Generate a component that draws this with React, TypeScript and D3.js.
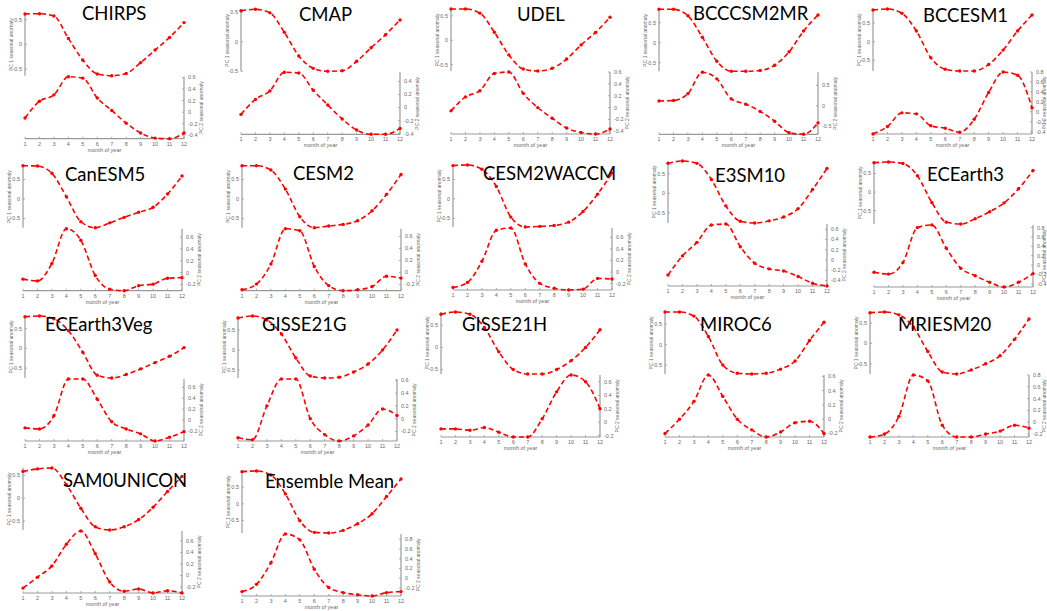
import * as d3 from 'd3';

// month axis
const months = [1, 2, 3, 4, 5, 6, 7, 8, 9, 10, 11, 12];

const modelNames = [
  'CHIRPS', 'CMAP', 'UDEL', 'BCCCSM2MR', 'BCCESM1',
  'CanESM5', 'CESM2', 'CESM2WACCM', 'E3SM10', 'ECEarth3',
  'ECEarth3Veg', 'GISSE21G', 'GISSE21H', 'MIROC6', 'MRIESM20',
  'SAM0UNICON', 'Ensemble Mean',
];

// PC1 seasonal anomaly, one array per panel
const pc1CHIRPS = [0.615, 0.62, 0.574, 0.12, -0.32, -0.6, -0.635, -0.59, -0.37, -0.115, 0.14, 0.44];
const pc1CMAP = [0.525, 0.55, 0.49, 0.16, -0.24, -0.45, -0.5, -0.49, -0.33, -0.1, 0.12, 0.37];
const pc1UDEL = [0.64, 0.64, 0.555, 0.165, -0.3, -0.59, -0.63, -0.575, -0.385, -0.095, 0.16, 0.47];
const pc1BCCCSM2MR = [0.83, 0.83, 0.67, 0.135, -0.46, -0.71, -0.71, -0.69, -0.56, -0.225, 0.29, 0.69];
const pc1BCCESM1 = [0.85, 0.875, 0.76, 0.285, -0.43, -0.74, -0.785, -0.785, -0.61, -0.225, 0.285, 0.715];
const pc1CanESM5 = [0.855, 0.846, 0.66, 0.06, -0.58, -0.735, -0.61, -0.47, -0.34, -0.21, 0.13, 0.59];
const pc1CESM2 = [0.855, 0.855, 0.745, 0.255, -0.455, -0.735, -0.69, -0.65, -0.555, -0.3, 0.12, 0.63];
const pc1CESM2WACCM = [0.855, 0.87, 0.76, 0.315, -0.47, -0.725, -0.71, -0.685, -0.6, -0.325, 0.12, 0.66];
const pc1E3SM10 = [0.775, 0.835, 0.775, 0.36, -0.32, -0.715, -0.76, -0.705, -0.605, -0.39, 0.1, 0.645];
const pc1ECEarth3 = [0.79, 0.81, 0.77, 0.44, -0.28, -0.81, -0.86, -0.72, -0.53, -0.29, 0.09, 0.58];
const pc1ECEarth3Veg = [0.8, 0.82, 0.75, 0.45, -0.1, -0.68, -0.75, -0.66, -0.52, -0.36, -0.2, 0.02];
const pc1GISSE21G = [0.8, 0.85, 0.75, 0.4, -0.2, -0.65, -0.7, -0.68, -0.55, -0.35, 0.0, 0.5];
const pc1GISSE21H = [0.75, 0.8, 0.75, 0.45, -0.1, -0.5, -0.6, -0.6, -0.5, -0.3, 0.0, 0.4];
const pc1MIROC6 = [0.8, 0.8, 0.7, 0.2, -0.5, -0.7, -0.72, -0.7, -0.6, -0.4, 0.1, 0.55];
const pc1MRIESM20 = [0.75, 0.77, 0.7, 0.4, -0.2, -0.7, -0.75, -0.65, -0.5, -0.3, 0.1, 0.6];
const pc1SAM0UNICON = [0.59, 0.645, 0.665, 0.3, -0.22, -0.63, -0.7, -0.63, -0.47, -0.2, 0.15, 0.48];
const pc1Ensemble = [0.97, 0.99, 0.87, 0.3, -0.51, -0.86, -0.88, -0.8, -0.6, -0.3, 0.22, 0.75];

// PC2 seasonal anomaly
const pc2CHIRPS = [-0.1, 0.19, 0.3, 0.615, 0.59, 0.245, 0.03, -0.19, -0.36, -0.45, -0.46, -0.36];
const pc2CMAP = [-0.105, 0.125, 0.255, 0.54, 0.53, 0.265, 0.04, -0.175, -0.345, -0.41, -0.41, -0.32];
const pc2UDEL = [-0.055, 0.18, 0.285, 0.575, 0.6, 0.24, 0.0, -0.18, -0.345, -0.42, -0.445, -0.36];
const pc2BCCCSM2MR = [0.12, 0.13, 0.3, 0.82, 0.66, 0.17, 0.04, -0.135, -0.375, -0.655, -0.695, -0.415];
const pc2BCCESM1 = [-0.445, -0.295, -0.02, -0.04, -0.28, -0.33, -0.41, -0.15, 0.39, 0.8, 0.735, 0.08];
const pc2CanESM5 = [-0.11, -0.14, 0.155, 0.74, 0.545, -0.05, -0.28, -0.305, -0.22, -0.195, -0.095, -0.085];
const pc2CESM2 = [-0.29, -0.195, 0.14, 0.73, 0.695, 0.1, -0.22, -0.305, -0.29, -0.235, -0.065, -0.095];
const pc2CESM2WACCM = [-0.265, -0.18, 0.185, 0.72, 0.76, 0.14, -0.195, -0.28, -0.31, -0.295, -0.11, -0.12];
const pc2E3SM10 = [-0.295, 0.08, 0.345, 0.685, 0.705, 0.26, -0.065, -0.175, -0.215, -0.325, -0.455, -0.51];
const pc2ECEarth3 = [-0.15, -0.19, 0.055, 0.8, 0.855, 0.36, -0.065, -0.225, -0.365, -0.465, -0.365, -0.18];
const pc2ECEarth3Veg = [-0.14, -0.16, 0.08, 0.75, 0.75, 0.38, -0.03, -0.16, -0.25, -0.38, -0.31, -0.21];
const pc2GISSE21G = [-0.3, -0.33, 0.2, 0.62, 0.62, 0.0, -0.25, -0.35, -0.27, -0.1, 0.15, 0.05];
const pc2GISSE21H = [-0.1, -0.1, -0.12, -0.08, -0.15, -0.22, -0.22, 0.05, 0.45, 0.7, 0.6, 0.2];
const pc2MIROC6 = [-0.2, 0.0, 0.25, 0.62, 0.32, 0.0, -0.15, -0.25, -0.18, -0.05, -0.03, -0.2];
const pc2MRIESM20 = [-0.25, -0.2, 0.1, 0.8, 0.7, -0.05, -0.25, -0.25, -0.2, -0.15, -0.05, -0.1];
const pc2SAM0UNICON = [-0.22, -0.03, 0.165, 0.54, 0.77, 0.375, -0.115, -0.275, -0.235, -0.305, -0.265, -0.305];
const pc2Ensemble = [-0.275, -0.125, 0.32, 0.91, 0.79, 0.185, -0.19, -0.295, -0.34, -0.365, -0.295, -0.275];

const pc1Series = [
  pc1CHIRPS, pc1CMAP, pc1UDEL, pc1BCCCSM2MR, pc1BCCESM1,
  pc1CanESM5, pc1CESM2, pc1CESM2WACCM, pc1E3SM10, pc1ECEarth3,
  pc1ECEarth3Veg, pc1GISSE21G, pc1GISSE21H, pc1MIROC6, pc1MRIESM20,
  pc1SAM0UNICON, pc1Ensemble,
];
const pc2Series = [
  pc2CHIRPS, pc2CMAP, pc2UDEL, pc2BCCCSM2MR, pc2BCCESM1,
  pc2CanESM5, pc2CESM2, pc2CESM2WACCM, pc2E3SM10, pc2ECEarth3,
  pc2ECEarth3Veg, pc2GISSE21G, pc2GISSE21H, pc2MIROC6, pc2MRIESM20,
  pc2SAM0UNICON, pc2Ensemble,
];

// tick spacing used on the PC2 (right) axis
const pc2TickSteps = [0.2, 0.2, 0.2, 0.5, 0.2, 0.2, 0.2, 0.2, 0.2, 0.2, 0.2, 0.2, 0.2, 0.2, 0.2, 0.2, 0.2];

// where each little figure was pasted: plot left/top, title left/baseline
const panelPos: [number, number, number, number][] = [
  [25, 13.7, 82, 20], [241, 9.3, 299, 21], [451, 9, 517, 21], [659, 9.3, 693, 20], [873, 9, 923, 22],
  [23, 165.7, 65, 181], [242, 165.7, 293, 180], [453, 165, 483, 180], [668, 161, 715, 182], [874, 162, 927, 181],
  [25, 316, 45, 331], [238, 316, 262, 331], [441, 312, 462, 331], [665, 312, 700, 331], [870, 312, 898, 331],
  [23, 468, 63, 487], [242, 471, 265, 488],
];

const W = 1047;
const PW = 159;
const H1 = 62;
const H2 = 62;
const AXIS = '#9a9a9a';
const TXT = '#6a6a6a';
const RED = '#ff0000';

const fmt = (v: number) => (Math.abs(v) < 1e-9 ? '0' : String(Math.round(v * 10) / 10));

function stepTicks(lo: number, hi: number, step: number) {
  return d3.range(Math.ceil(lo / step - 1e-9), Math.floor(hi / step + 1e-9) + 1).map((k) => Math.round(k * step * 10) / 10);
}

const Panel = ({ idx }: { idx: number }) => {
  const [x0, y0, tx, ty] = panelPos[idx];
  const pc1 = pc1Series[idx];
  const pc2 = pc2Series[idx];

  const x = d3.scaleLinear().domain([1, 12]).range([x0, x0 + PW]);
  const y1 = d3.scaleLinear().domain(d3.extent(pc1) as [number, number]).range([y0 + H1, y0]);
  const y2 = d3.scaleLinear().domain(d3.extent(pc2) as [number, number]).range([y0 + H1 + 1 + H2, y0 + H1 + 1]);
  const yBase = y0 + H1 + 1 + H2;

  const line1 = d3.line<number>().x((_, i) => x(months[i])).y((d) => y1(d)).curve(d3.curveMonotoneX);
  const line2 = d3.line<number>().x((_, i) => x(months[i])).y((d) => y2(d)).curve(d3.curveMonotoneX);

  const t1 = y1.ticks(3);
  const [lo2, hi2] = y2.domain();
  const t2 = stepTicks(lo2, hi2, pc2TickSteps[idx]);
  // right label of the last column sits against the page edge
  const rLabelX = Math.min(x0 + PW + 19, W - 1);

  return (
    <g>
      {/* PC1 left axis */}
      <line x1={x0} x2={x0} y1={y0} y2={y0 + H1} stroke={AXIS} strokeWidth={1.2} />
      {t1.map((t) => (
        <g key={'a' + t}>
          <line x1={x0} x2={x0 + 2} y1={y1(t)} y2={y1(t)} stroke={AXIS} strokeWidth={0.8} />
          <text x={x0 - 3} y={y1(t)} dy="0.35em" textAnchor="end" fontSize={5.5} fill={TXT}>{fmt(t)}</text>
        </g>
      ))}
      <text transform={`translate(${x0 - 12},${y0 + H1 / 2}) rotate(-90)`} textAnchor="middle" fontSize={5} fill={TXT}>
        PC 1 seasonal anomaly
      </text>

      {/* PC2 right axis */}
      <line x1={x0 + PW} x2={x0 + PW} y1={y0 + H1 + 1} y2={yBase} stroke={AXIS} strokeWidth={1.2} />
      {t2.map((t) => (
        <g key={'b' + t}>
          <line x1={x0 + PW - 2} x2={x0 + PW} y1={y2(t)} y2={y2(t)} stroke={AXIS} strokeWidth={0.8} />
          <text x={x0 + PW + 4} y={y2(t)} dy="0.35em" fontSize={5.5} fill={TXT}>{fmt(t)}</text>
        </g>
      ))}
      <text transform={`translate(${rLabelX},${y0 + H1 + 1 + H2 / 2}) rotate(-90)`} textAnchor="middle" fontSize={5} fill={TXT}>
        PC 2 seasonal anomaly
      </text>

      {/* month axis */}
      <line x1={x0} x2={x0 + PW} y1={yBase} y2={yBase} stroke={AXIS} strokeWidth={1.2} />
      {months.map((m) => (
        <g key={'m' + m}>
          <line x1={x(m)} x2={x(m)} y1={yBase} y2={yBase - 2} stroke={AXIS} strokeWidth={0.8} />
          <text x={x(m)} y={yBase + 7} textAnchor="middle" fontSize={5.5} fill={TXT}>{m}</text>
        </g>
      ))}
      <text x={x0 + PW / 2} y={yBase + 13} textAnchor="middle" fontSize={5.5} fill={TXT}>month of year</text>

      {/* series */}
      <path d={line1(pc1) ?? ''} fill="none" stroke={RED} strokeWidth={1.6} strokeDasharray="5 3" />
      <path d={line2(pc2) ?? ''} fill="none" stroke={RED} strokeWidth={1.6} strokeDasharray="5 3" />
      {pc1.map((v, i) => <circle key={'p' + i} cx={x(months[i])} cy={y1(v)} r={1.7} fill={RED} />)}
      {pc2.map((v, i) => <circle key={'q' + i} cx={x(months[i])} cy={y2(v)} r={1.7} fill={RED} />)}

      <text x={tx} y={ty} fontSize={18.5} fontFamily="Lato, 'Open Sans', sans-serif" fill="#000">
        {modelNames[idx]}
      </text>
    </g>
  );
};

export default function App() {
  return (
    <svg
      width={W}
      height={611}
      style={{ position: 'absolute', left: 0, top: 0, background: '#fff' }}
      fontFamily="'Liberation Sans', Arial, sans-serif"
    >
      <rect width={W} height={611} fill="#fff" />
      {modelNames.map((_, i) => <Panel key={i} idx={i} />)}
    </svg>
  );
}
